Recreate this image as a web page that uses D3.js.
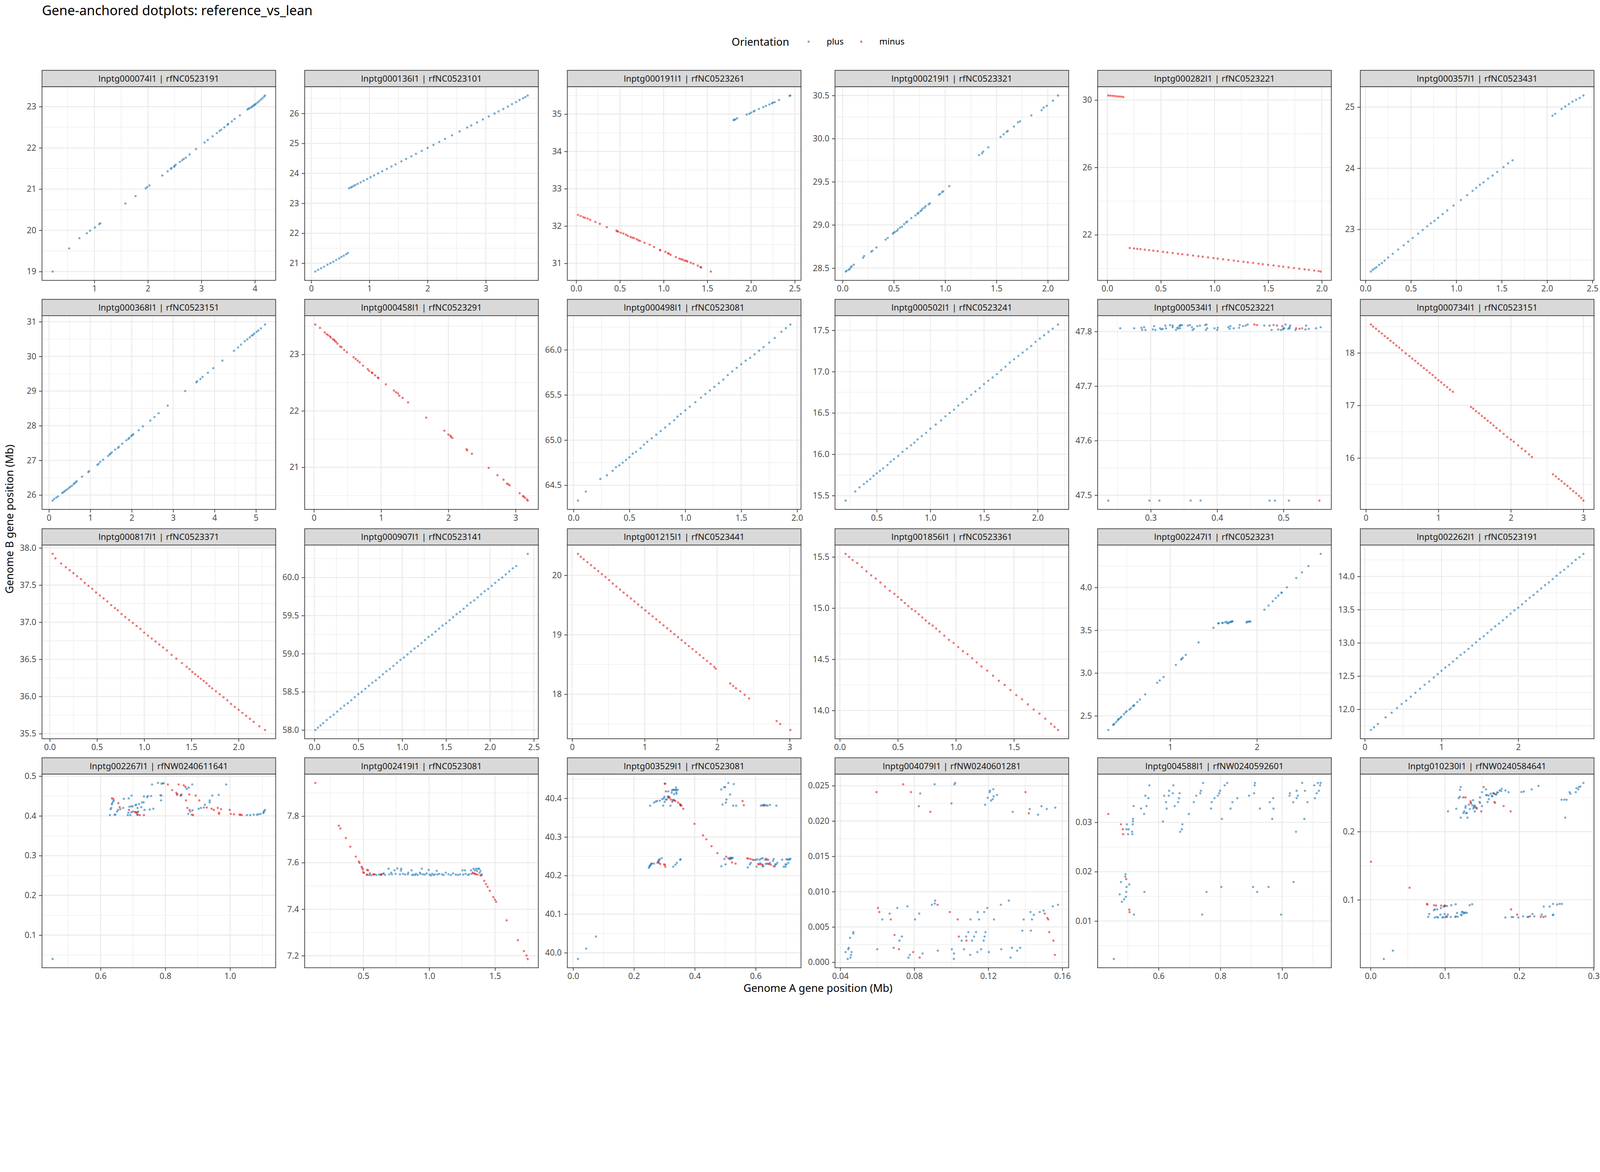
<!DOCTYPE html>
<html>
<head>
<meta charset="utf-8">
<script src="https://cdn.jsdelivr.net/npm/d3@7/dist/d3.min.js"></script>
<style>
  html, body { margin: 0; padding: 0; background: #fff; overflow: hidden; }
  #chart { display: block; width: 100vw; height: 100vh; }
  text { font-family: "Noto Sans", "Open Sans", sans-serif; }
</style>
</head>
<body>
<svg id="chart"></svg>
<script>
/* Gene-anchored dotplots, one facet per contig pair, [geneA Mb, geneB Mb] */

var panelTitles = [
    "lnptg000074l1 | rfNC0523191", "lnptg000136l1 | rfNC0523101", "lnptg000191l1 | rfNC0523261",
    "lnptg000219l1 | rfNC0523321", "lnptg000282l1 | rfNC0523221", "lnptg000357l1 | rfNC0523431",
    "lnptg000368l1 | rfNC0523151", "lnptg000458l1 | rfNC0523291", "lnptg000498l1 | rfNC0523081",
    "lnptg000502l1 | rfNC0523241", "lnptg000534l1 | rfNC0523221", "lnptg000734l1 | rfNC0523151",
    "lnptg000817l1 | rfNC0523371", "lnptg000907l1 | rfNC0523141", "lnptg001215l1 | rfNC0523441",
    "lnptg001856l1 | rfNC0523361", "lnptg002247l1 | rfNC0523231", "lnptg002262l1 | rfNC0523191",
    "lnptg002267l1 | rfNW0240611641", "lnptg002419l1 | rfNC0523081", "lnptg003529l1 | rfNC0523081",
    "lnptg004079l1 | rfNW0240601281", "lnptg004588l1 | rfNW0240592601", "lnptg010230l1 | rfNW0240584641"
];

var xTickLabels = [
    ["1","2","3","4"], ["0","1","2","3"], ["0.0","0.5","1.0","1.5","2.0","2.5"],
    ["0.0","0.5","1.0","1.5","2.0"], ["0.0","0.5","1.0","1.5","2.0"], ["0.0","0.5","1.0","1.5","2.0","2.5"],
    ["0","1","2","3","4","5"], ["0","1","2","3"], ["0.0","0.5","1.0","1.5","2.0"],
    ["0.5","1.0","1.5","2.0"], ["0.3","0.4","0.5"], ["0","1","2","3"],
    ["0.0","0.5","1.0","1.5","2.0"], ["0.0","0.5","1.0","1.5","2.0","2.5"], ["0","1","2","3"],
    ["0.0","0.5","1.0","1.5"], ["1","2"], ["0","1","2","3"],
    ["0.6","0.8","1.0"], ["0.5","1.0","1.5"], ["0.0","0.2","0.4","0.6"],
    ["0.04","0.08","0.12","0.16"], ["0.6","0.8","1.0"], ["0.0","0.1","0.2","0.3"]
];

var yTickLabels = [
    ["19","20","21","22","23"], ["21","22","23","24","25","26"], ["31","32","33","34","35"],
    ["28.5","29.0","29.5","30.0","30.5"], ["22","26","30"], ["23","24","25"],
    ["26","27","28","29","30","31"], ["21","22","23"], ["64.5","65.0","65.5","66.0"],
    ["15.5","16.0","16.5","17.0","17.5"], ["47.5","47.6","47.7","47.8"], ["16","17","18"],
    ["35.5","36.0","36.5","37.0","37.5","38.0"], ["58.0","58.5","59.0","59.5","60.0"], ["18","19","20"],
    ["14.0","14.5","15.0","15.5"], ["2.5","3.0","3.5","4.0"], ["12.0","12.5","13.0","13.5","14.0"],
    ["0.1","0.2","0.3","0.4","0.5"], ["7.2","7.4","7.6","7.8"], ["40.0","40.1","40.2","40.3","40.4"],
    ["0.000","0.005","0.010","0.015","0.020","0.025"], ["0.01","0.02","0.03"], ["0.1","0.2"]
];

var plus01 = [[0.22,19.00],[0.53,19.56],[0.72,19.81],[0.86,19.93],[0.92,19.99],[1.01,20.07],[1.09,20.15],[1.11,20.17],[1.58,20.65],[1.77,20.83],[1.96,21.02],[1.99,21.05],[2.03,21.09],[2.27,21.33],[2.37,21.43],[2.43,21.49],[2.44,21.51],[2.49,21.54],[2.50,21.56],[2.52,21.59],[2.60,21.66],[2.64,21.70],[2.67,21.73],[2.71,21.76],[2.78,21.84],[2.90,21.97],[3.06,22.13],[3.12,22.19],[3.21,22.28],[3.29,22.36],[3.34,22.41],[3.37,22.44],[3.43,22.50],[3.49,22.56],[3.50,22.58],[3.57,22.64],[3.62,22.70],[3.72,22.79],[3.86,22.93],[3.88,22.95],[3.90,22.96],[3.93,22.98],[3.95,23.00],[3.97,23.02],[3.99,23.04],[4.00,23.05],[4.02,23.07],[4.05,23.10],[4.08,23.13],[4.11,23.17],[4.14,23.20],[4.17,23.24],[4.19,23.27]];
var minus01 = [];

var plus02 = [[0.07,20.72],[0.12,20.78],[0.17,20.83],[0.22,20.88],[0.28,20.95],[0.33,21.00],[0.38,21.05],[0.43,21.11],[0.48,21.16],[0.52,21.21],[0.56,21.25],[0.60,21.30],[0.63,21.34],
    [0.65,23.50],[0.68,23.53],[0.70,23.55],[0.73,23.58],[0.76,23.61],[0.80,23.65],[0.85,23.70],[0.90,23.75],[0.96,23.81],[1.02,23.87],[1.08,23.93],[1.15,24.00],[1.22,24.07],[1.30,24.15],[1.38,24.23],[1.45,24.30],[1.55,24.40],[1.63,24.48],[1.72,24.57],[1.80,24.65],[1.90,24.75],[2.00,24.85],[2.10,24.95],[2.20,25.05],[2.30,25.15],[2.42,25.27],[2.55,25.40],[2.68,25.53],[2.75,25.60],[2.85,25.70],[2.95,25.80],[3.05,25.90],[3.15,26.00],[3.22,26.07],[3.30,26.15],[3.38,26.23],[3.45,26.31],[3.52,26.38],[3.58,26.45],[3.64,26.51],[3.68,26.55],[3.72,26.60]];
var minus02 = [];

var plus03 = [[1.80,34.84],[1.81,34.85],[1.82,34.86],[1.84,34.89],[1.95,34.99],[1.98,35.01],[2.00,35.04],[2.03,35.07],[2.04,35.09],[2.09,35.14],[2.14,35.19],[2.17,35.22],[2.21,35.26],[2.24,35.29],[2.25,35.31],[2.27,35.32],[2.32,35.38],[2.44,35.49],[2.45,35.50]];
var minus03 = [[0.02,32.30],[0.05,32.27],[0.08,32.24],[0.10,32.22],[0.13,32.20],[0.16,32.17],[0.22,32.11],[0.27,32.06],[0.35,31.97],[0.46,31.88],[0.47,31.86],[0.48,31.85],[0.51,31.82],[0.54,31.80],[0.57,31.77],[0.59,31.74],[0.62,31.71],[0.64,31.69],[0.66,31.68],[0.69,31.65],[0.71,31.62],[0.73,31.60],[0.78,31.55],[0.84,31.50],[0.89,31.44],[0.96,31.36],[0.96,31.35],[1.02,31.31],[1.05,31.27],[1.06,31.26],[1.08,31.23],[1.14,31.17],[1.18,31.13],[1.20,31.11],[1.22,31.10],[1.24,31.07],[1.26,31.07],[1.27,31.05],[1.31,31.02],[1.34,30.99],[1.39,30.94],[1.42,30.90],[1.43,30.89],[1.54,30.78]];

var plus04 = [[0.03,28.46],[0.04,28.47],[0.06,28.48],[0.07,28.49],[0.08,28.51],[0.09,28.52],[0.11,28.54],[0.20,28.62],[0.21,28.64],[0.28,28.69],[0.29,28.70],[0.33,28.74],[0.42,28.83],[0.44,28.85],[0.49,28.90],[0.50,28.91],[0.51,28.92],[0.53,28.93],[0.54,28.95],[0.56,28.97],[0.58,28.98],[0.60,29.01],[0.62,29.03],[0.63,29.04],[0.67,29.08],[0.71,29.11],[0.73,29.13],[0.74,29.14],[0.76,29.16],[0.77,29.17],[0.78,29.19],[0.80,29.20],[0.81,29.22],[0.84,29.24],[0.85,29.25],[0.94,29.35],[0.95,29.36],[0.97,29.38],[0.98,29.39],[1.04,29.45],[1.33,29.81],[1.36,29.83],[1.37,29.85],[1.42,29.90],[1.54,30.02],[1.57,30.05],[1.60,30.08],[1.61,30.09],[1.67,30.14],[1.71,30.19],[1.73,30.20],[1.84,30.27],[1.94,30.33],[1.96,30.36],[1.99,30.38],[2.05,30.44],[2.10,30.50]];
var minus04 = [];

var plus05 = [];
var minus05 = [[0.01,30.27],[0.03,30.26],[0.05,30.25],[0.07,30.24],[0.09,30.22],[0.11,30.21],[0.13,30.20],[0.15,30.18],
    [0.21,21.22],[0.25,21.19],[0.28,21.17],[0.31,21.15],[0.35,21.12],[0.39,21.09],[0.43,21.06],[0.47,21.03],[0.52,20.99],[0.56,20.96],[0.61,20.92],[0.66,20.88],[0.70,20.85],[0.75,20.81],[0.80,20.77],[0.85,20.73],[0.89,20.70],[0.94,20.66],[0.99,20.62],[1.03,20.59],[1.08,20.55],[1.13,20.51],[1.18,20.47],[1.22,20.44],[1.27,20.40],[1.31,20.37],[1.36,20.33],[1.41,20.29],[1.45,20.26],[1.50,20.22],[1.55,20.18],[1.60,20.14],[1.64,20.11],[1.69,20.07],[1.74,20.03],[1.79,19.99],[1.84,19.95],[1.88,19.92],[1.93,19.88],[1.97,19.85],[1.99,19.82]];

var plus06 = [[0.06,22.31],[0.08,22.34],[0.10,22.36],[0.12,22.38],[0.15,22.42],[0.18,22.45],[0.21,22.49],[0.25,22.54],[0.30,22.60],[0.36,22.67],[0.42,22.74],[0.47,22.80],[0.52,22.86],[0.58,22.93],[0.63,22.99],[0.68,23.05],[0.72,23.10],[0.76,23.14],[0.80,23.19],[0.85,23.25],[0.90,23.31],[0.97,23.39],[1.05,23.48],[1.12,23.56],[1.18,23.63],[1.22,23.68],[1.26,23.73],[1.30,23.77],[1.35,23.83],[1.40,23.88],[1.45,23.94],[1.52,24.02],[1.57,24.08],[1.62,24.13],
    [2.06,24.86],[2.09,24.89],[2.16,24.97],[2.20,25.01],[2.24,25.05],[2.28,25.09],[2.32,25.12],[2.36,25.15],[2.40,25.19]];
var minus06 = [];

var plus07 = [[0.09,25.84],[0.13,25.89],[0.18,25.93],[0.22,25.96],[0.32,26.06],[0.35,26.08],[0.38,26.11],[0.41,26.14],[0.45,26.17],[0.49,26.21],[0.52,26.24],[0.56,26.27],[0.60,26.32],[0.62,26.34],[0.65,26.37],[0.67,26.40],[0.80,26.53],[0.95,26.66],[0.97,26.69],[1.17,26.87],[1.20,26.90],[1.24,26.96],[1.31,27.02],[1.43,27.13],[1.47,27.17],[1.49,27.20],[1.52,27.23],[1.60,27.31],[1.67,27.36],[1.69,27.39],[1.77,27.48],[1.87,27.58],[1.92,27.62],[1.94,27.65],[1.99,27.70],[2.01,27.73],[2.04,27.75],[2.17,27.87],[2.27,27.98],[2.45,28.15],[2.55,28.25],[2.65,28.36],[2.87,28.58],[3.29,29.00],[3.56,29.25],[3.58,29.28],[3.66,29.35],[3.71,29.41],[3.84,29.53],[3.97,29.66],[4.19,29.88],[4.47,30.16],[4.57,30.26],[4.64,30.34],[4.73,30.44],[4.79,30.49],[4.85,30.55],[4.90,30.60],[4.93,30.62],[4.96,30.66],[5.02,30.71],[5.06,30.75],[5.12,30.81],[5.22,30.92]];
var minus07 = [];

var plus08 = [];
var minus08 = [[0.02,23.53],[0.09,23.47],[0.16,23.39],[0.19,23.36],[0.21,23.34],[0.24,23.32],[0.25,23.30],[0.28,23.27],[0.30,23.26],[0.31,23.24],[0.33,23.22],[0.35,23.19],[0.39,23.14],[0.41,23.13],[0.45,23.08],[0.49,23.04],[0.59,22.95],[0.62,22.92],[0.65,22.89],[0.68,22.86],[0.73,22.80],[0.80,22.74],[0.82,22.71],[0.86,22.68],[0.87,22.67],[0.91,22.63],[0.95,22.59],[0.96,22.58],[1.07,22.47],[1.19,22.36],[1.22,22.33],[1.25,22.31],[1.27,22.27],[1.32,22.23],[1.40,22.15],[1.67,21.88],[1.94,21.65],[2.00,21.58],[2.03,21.56],[2.04,21.54],[2.06,21.52],[2.27,21.32],[2.28,21.30],[2.35,21.24],[2.60,20.99],[2.73,20.86],[2.82,20.78],[2.87,20.71],[2.89,20.70],[2.91,20.68],[3.06,20.54],[3.11,20.49],[3.12,20.48],[3.14,20.46],[3.17,20.43],[3.18,20.41]];

var plus09 = [[0.04,64.33],[0.11,64.43],[0.24,64.57],[0.30,64.61],[0.35,64.66],[0.38,64.70],[0.41,64.72],[0.44,64.75],[0.47,64.78],[0.50,64.81],[0.53,64.85],[0.56,64.87],[0.60,64.91],[0.63,64.95],[0.66,64.98],[0.70,65.02],[0.74,65.06],[0.78,65.10],[0.82,65.14],[0.86,65.18],[0.90,65.22],[0.93,65.26],[0.96,65.29],[1.00,65.33],[1.04,65.37],[1.09,65.42],[1.14,65.47],[1.18,65.51],[1.22,65.55],[1.26,65.59],[1.30,65.63],[1.34,65.67],[1.38,65.72],[1.42,65.76],[1.46,65.80],[1.50,65.84],[1.54,65.88],[1.58,65.91],[1.62,65.95],[1.66,65.99],[1.70,66.03],[1.75,66.08],[1.80,66.13],[1.86,66.20],[1.90,66.24],[1.94,66.28]];
var minus09 = [];

var plus10 = [[0.21,15.44],[0.30,15.55],[0.34,15.60],[0.38,15.64],[0.41,15.67],[0.44,15.70],[0.47,15.74],[0.50,15.77],[0.53,15.80],[0.56,15.83],[0.60,15.87],[0.63,15.91],[0.66,15.94],[0.70,15.98],[0.74,16.03],[0.78,16.07],[0.82,16.11],[0.85,16.14],[0.88,16.18],[0.92,16.22],[0.96,16.26],[1.00,16.31],[1.05,16.36],[1.10,16.41],[1.14,16.46],[1.18,16.50],[1.22,16.54],[1.26,16.59],[1.30,16.63],[1.34,16.67],[1.38,16.72],[1.42,16.76],[1.46,16.80],[1.50,16.85],[1.54,16.89],[1.58,16.93],[1.62,16.97],[1.66,17.02],[1.70,17.06],[1.74,17.11],[1.78,17.15],[1.82,17.19],[1.86,17.23],[1.90,17.27],[1.94,17.31],[1.98,17.36],[2.02,17.40],[2.06,17.44],[2.10,17.48],[2.14,17.52],[2.19,17.57]];
var minus10 = [];

var plus11 = [[0.254,47.806],[0.275,47.806],[0.286,47.807],[0.290,47.808],[0.287,47.803],[0.292,47.803],[0.303,47.804],[0.305,47.810],[0.307,47.803],[0.314,47.806],[0.316,47.804],[0.318,47.805],[0.322,47.811],[0.323,47.806],[0.329,47.812],[0.333,47.811],[0.333,47.808],[0.338,47.803],[0.340,47.807],[0.341,47.806],[0.343,47.810],[0.344,47.811],[0.345,47.812],[0.344,47.806],[0.347,47.812],[0.356,47.811],[0.359,47.812],[0.362,47.808],[0.363,47.803],[0.365,47.805],[0.370,47.810],[0.374,47.811],[0.382,47.812],[0.384,47.813],[0.383,47.803],[0.385,47.806],[0.396,47.806],[0.400,47.803],[0.401,47.807],[0.417,47.808],[0.420,47.810],[0.419,47.805],[0.425,47.806],[0.433,47.807],[0.434,47.812],[0.439,47.810],[0.443,47.811],[0.446,47.813],[0.471,47.811],[0.485,47.812],[0.482,47.803],[0.492,47.804],[0.496,47.803],[0.499,47.804],[0.500,47.806],[0.501,47.806],[0.503,47.813],[0.507,47.805],[0.509,47.806],[0.509,47.808],[0.510,47.811],[0.518,47.803],[0.528,47.806],[0.534,47.811],[0.538,47.805],[0.549,47.806],[0.556,47.808],
    [0.236,47.490],[0.298,47.490],[0.313,47.490],[0.360,47.490],[0.375,47.490],[0.479,47.490],[0.487,47.490],[0.508,47.490]];
var minus11 = [[0.456,47.813],[0.460,47.812],[0.479,47.811],[0.490,47.811],[0.498,47.810],[0.519,47.806],[0.524,47.805],[0.533,47.804],[0.554,47.490]];

var plus12 = [];
var minus12 = [[0.07,18.54],[0.10,18.50],[0.14,18.46],[0.18,18.41],[0.22,18.37],[0.26,18.32],[0.30,18.28],[0.34,18.23],[0.38,18.19],[0.42,18.14],[0.46,18.10],[0.50,18.05],[0.55,17.99],[0.60,17.94],[0.64,17.89],[0.68,17.85],[0.72,17.80],[0.76,17.76],[0.80,17.71],[0.84,17.67],[0.88,17.62],[0.92,17.58],[0.96,17.53],[1.00,17.48],[1.04,17.44],[1.08,17.39],[1.12,17.35],[1.16,17.30],[1.20,17.26],[1.45,16.97],[1.48,16.94],[1.52,16.89],[1.56,16.85],[1.60,16.80],[1.64,16.76],[1.68,16.71],[1.72,16.67],[1.76,16.62],[1.80,16.57],[1.85,16.52],[1.90,16.46],[1.95,16.40],[2.00,16.35],[2.04,16.31],[2.10,16.24],[2.15,16.18],[2.20,16.13],[2.25,16.07],[2.29,16.02],[2.58,15.69],[2.62,15.65],[2.66,15.60],[2.70,15.56],[2.74,15.51],[2.78,15.47],[2.82,15.42],[2.86,15.37],[2.90,15.33],[2.94,15.28],[2.97,15.24],[3.00,15.19]];

var plus13 = [];
var minus13 = [[0.03,37.92],[0.06,37.86],[0.12,37.79],[0.17,37.74],[0.21,37.70],[0.25,37.66],[0.29,37.62],[0.33,37.58],[0.37,37.53],[0.41,37.49],[0.45,37.45],[0.49,37.40],[0.53,37.36],[0.57,37.32],[0.61,37.28],[0.65,37.23],[0.69,37.19],[0.72,37.16],[0.76,37.11],[0.80,37.07],[0.84,37.03],[0.88,36.99],[0.92,36.95],[0.96,36.91],[1.00,36.86],[1.04,36.82],[1.08,36.78],[1.12,36.74],[1.16,36.70],[1.20,36.66],[1.24,36.62],[1.29,36.56],[1.34,36.51],[1.40,36.45],[1.45,36.40],[1.48,36.37],[1.51,36.33],[1.54,36.30],[1.57,36.27],[1.60,36.24],[1.63,36.21],[1.66,36.18],[1.69,36.14],[1.72,36.11],[1.76,36.07],[1.80,36.03],[1.84,35.99],[1.88,35.95],[1.92,35.90],[1.96,35.86],[2.00,35.82],[2.04,35.78],[2.08,35.74],[2.12,35.70],[2.16,35.66],[2.22,35.60],[2.28,35.55]];

var plus14 = [[0.01,58.00],[0.04,58.03],[0.07,58.06],[0.10,58.09],[0.14,58.13],[0.18,58.17],[0.22,58.20],[0.26,58.24],[0.30,58.28],[0.34,58.32],[0.38,58.35],[0.42,58.39],[0.46,58.43],[0.50,58.47],[0.54,58.50],[0.58,58.54],[0.62,58.58],[0.66,58.62],[0.70,58.65],[0.74,58.69],[0.78,58.73],[0.82,58.77],[0.86,58.80],[0.90,58.84],[0.94,58.88],[0.98,58.92],[1.02,58.95],[1.06,58.99],[1.10,59.03],[1.14,59.07],[1.18,59.10],[1.22,59.14],[1.26,59.18],[1.30,59.22],[1.34,59.25],[1.38,59.29],[1.42,59.33],[1.46,59.37],[1.50,59.40],[1.54,59.44],[1.58,59.48],[1.62,59.52],[1.66,59.55],[1.70,59.59],[1.74,59.63],[1.78,59.67],[1.82,59.70],[1.86,59.74],[1.90,59.78],[1.94,59.82],[1.98,59.85],[2.02,59.89],[2.06,59.93],[2.10,59.97],[2.14,60.00],[2.18,60.04],[2.22,60.08],[2.26,60.12],[2.30,60.15],[2.43,60.31]];
var minus14 = [];

var plus15 = [];
var minus15 = [[0.08,20.36],[0.12,20.31],[0.16,20.27],[0.21,20.22],[0.26,20.17],[0.31,20.12],[0.36,20.07],[0.41,20.02],[0.46,19.97],[0.51,19.92],[0.56,19.86],[0.61,19.81],[0.66,19.76],[0.71,19.71],[0.76,19.66],[0.81,19.61],[0.86,19.56],[0.91,19.51],[0.96,19.46],[1.01,19.41],[1.06,19.36],[1.11,19.31],[1.16,19.26],[1.21,19.21],[1.26,19.16],[1.31,19.11],[1.36,19.06],[1.41,19.01],[1.46,18.96],[1.51,18.91],[1.56,18.86],[1.61,18.81],[1.66,18.76],[1.71,18.71],[1.76,18.66],[1.81,18.61],[1.86,18.56],[1.91,18.51],[1.96,18.46],[1.98,18.43],
    [2.18,18.18],[2.22,18.14],[2.26,18.10],[2.32,18.05],[2.38,17.99],[2.44,17.93],[2.82,17.55],[2.87,17.50],[3.01,17.40]];

var plus16 = [];
var minus16 = [[0.05,15.53],[0.08,15.50],[0.11,15.47],[0.15,15.44],[0.19,15.40],[0.23,15.36],[0.27,15.32],[0.31,15.29],[0.35,15.25],[0.39,15.21],[0.43,15.17],[0.47,15.14],[0.50,15.11],[0.53,15.08],[0.56,15.05],[0.59,15.02],[0.62,14.99],[0.65,14.97],[0.68,14.94],[0.71,14.91],[0.74,14.88],[0.77,14.85],[0.80,14.83],[0.83,14.80],[0.86,14.77],[0.90,14.73],[0.94,14.69],[0.98,14.66],[1.02,14.62],[1.06,14.58],[1.10,14.55],[1.14,14.51],[1.18,14.47],[1.22,14.43],[1.27,14.39],[1.32,14.34],[1.37,14.29],[1.42,14.25],[1.47,14.20],[1.52,14.15],[1.57,14.11],[1.62,14.06],[1.67,14.01],[1.72,13.97],[1.77,13.92],[1.82,13.87],[1.85,13.84],[1.88,13.81]];

var plus17 = [[0.287,2.335],[0.343,2.394],[0.349,2.400],[0.355,2.405],[0.377,2.427],[0.395,2.448],[0.403,2.459],[0.409,2.464],[0.427,2.477],[0.437,2.489],[0.467,2.520],[0.487,2.541],[0.499,2.555],[0.531,2.573],[0.547,2.589],[0.571,2.613],[0.579,2.620],[0.585,2.623],[0.621,2.661],[0.651,2.691],[0.713,2.750],[0.850,2.886],[0.880,2.913],[0.924,2.954],[1.066,3.095],[1.126,3.158],[1.134,3.167],[1.146,3.179],[1.180,3.212],[1.327,3.358],[1.499,3.528],[1.555,3.583],[1.559,3.580],[1.601,3.587],[1.605,3.585],[1.633,3.594],[1.653,3.598],[1.659,3.583],[1.671,3.583],[1.685,3.594],[1.697,3.596],[1.705,3.600],[1.713,3.603],[1.719,3.605],[1.880,3.591],[1.888,3.600],[1.902,3.600],[1.914,3.601],[1.926,3.603],[2.086,3.741],[2.134,3.789],[2.182,3.839],[2.218,3.877],[2.246,3.905],[2.283,3.941],[2.285,3.937],[2.345,4.002],[2.453,4.111],[2.519,4.177],[2.593,4.250],[2.735,4.393]];
var minus17 = [];

var plus18 = [[0.08,11.69],[0.12,11.73],[0.17,11.78],[0.27,11.88],[0.35,11.95],[0.42,12.02],[0.48,12.08],[0.54,12.13],[0.60,12.19],[0.66,12.25],[0.72,12.31],[0.78,12.37],[0.84,12.42],[0.90,12.48],[0.95,12.53],[1.00,12.58],[1.05,12.63],[1.10,12.67],[1.15,12.72],[1.20,12.77],[1.25,12.82],[1.30,12.86],[1.35,12.91],[1.40,12.96],[1.45,13.01],[1.50,13.06],[1.55,13.10],[1.60,13.15],[1.65,13.20],[1.70,13.25],[1.75,13.29],[1.80,13.34],[1.85,13.39],[1.90,13.44],[1.95,13.49],[2.00,13.53],[2.05,13.58],[2.10,13.63],[2.15,13.68],[2.20,13.72],[2.25,13.77],[2.30,13.82],[2.35,13.87],[2.40,13.91],[2.45,13.96],[2.50,14.01],[2.55,14.06],[2.60,14.10],[2.65,14.15],[2.70,14.20],[2.75,14.25],[2.80,14.29],[2.85,14.34]];
var minus18 = [];

var plus19 = [[0.452,0.040],[0.629,0.402],[0.631,0.417],[0.633,0.420],[0.635,0.429],[0.636,0.432],[0.639,0.436],[0.641,0.439],[0.643,0.403],[0.646,0.403],[0.651,0.411],[0.654,0.415],[0.661,0.417],[0.670,0.420],[0.672,0.443],[0.684,0.402],[0.687,0.444],[0.686,0.408],[0.689,0.423],[0.692,0.402],[0.695,0.424],[0.699,0.424],[0.696,0.451],[0.695,0.409],[0.700,0.411],[0.708,0.427],[0.710,0.428],[0.713,0.403],[0.714,0.409],[0.716,0.411],[0.714,0.420],[0.719,0.430],[0.726,0.422],[0.728,0.434],[0.733,0.434],[0.734,0.449],[0.736,0.415],[0.744,0.447],[0.746,0.450],[0.756,0.450],[0.752,0.416],[0.763,0.418],[0.759,0.479],[0.777,0.483],[0.785,0.452],[0.788,0.451],[0.788,0.481],[0.792,0.482],[0.795,0.482],[0.787,0.439],[0.836,0.453],[0.850,0.454],[0.849,0.452],[0.866,0.468],[0.872,0.471],[0.883,0.479],[0.871,0.405],[0.877,0.411],[0.884,0.414],[0.903,0.418],[0.910,0.420],[0.919,0.421],[0.922,0.428],[0.937,0.439],[0.937,0.434],[0.945,0.451],[0.965,0.453],[0.988,0.479],[1.052,0.402],[1.062,0.402],[1.073,0.403],[1.083,0.403],[1.088,0.404],[1.094,0.405],[1.103,0.407],[1.104,0.410],[1.105,0.412],[1.108,0.415]];
var minus19 = [[0.635,0.444],[0.639,0.443],[0.655,0.432],[0.659,0.422],[0.688,0.415],[0.706,0.410],[0.709,0.409],[0.711,0.408],[0.715,0.403],[0.721,0.402],[0.734,0.402],[0.808,0.479],[0.821,0.465],[0.834,0.458],[0.837,0.455],[0.841,0.479],[0.847,0.451],[0.857,0.477],[0.862,0.473],[0.864,0.439],[0.868,0.420],[0.874,0.454],[0.875,0.415],[0.882,0.403],[0.886,0.402],[0.894,0.451],[0.905,0.439],[0.928,0.421],[0.943,0.418],[0.950,0.415],[0.962,0.420],[0.966,0.408],[0.966,0.405],[0.972,0.417],[0.999,0.415],[1.002,0.405],[1.012,0.404],[1.029,0.403],[1.032,0.403],[1.036,0.402]];

var plus20 = [[0.526,7.547],[0.543,7.547],[0.559,7.546],[0.579,7.549],[0.599,7.547],[0.619,7.549],[0.634,7.550],[0.649,7.552],[0.655,7.554],[0.665,7.547],[0.691,7.574],[0.696,7.550],[0.711,7.557],[0.717,7.550],[0.737,7.567],[0.744,7.552],[0.758,7.575],[0.778,7.550],[0.785,7.566],[0.788,7.574],[0.801,7.552],[0.817,7.549],[0.838,7.550],[0.841,7.557],[0.866,7.567],[0.870,7.547],[0.880,7.549],[0.893,7.547],[0.900,7.552],[0.913,7.547],[0.929,7.557],[0.935,7.552],[0.944,7.574],[0.952,7.550],[0.967,7.549],[0.981,7.554],[0.996,7.569],[1.003,7.549],[1.013,7.545],[1.022,7.552],[1.033,7.547],[1.044,7.550],[1.057,7.565],[1.063,7.549],[1.076,7.552],[1.097,7.550],[1.110,7.547],[1.126,7.557],[1.146,7.550],[1.165,7.547],[1.181,7.554],[1.202,7.549],[1.218,7.547],[1.234,7.550],[1.252,7.567],[1.258,7.549],[1.271,7.567],[1.276,7.552],[1.294,7.547],[1.304,7.550],[1.318,7.567],[1.323,7.552],[1.337,7.574],[1.347,7.567],[1.357,7.574],[1.363,7.564],[1.371,7.574],[1.379,7.574],[1.383,7.557],[1.389,7.565],[1.400,7.550]];
var minus20 = [[0.135,7.943],[0.314,7.759],[0.326,7.747],[0.367,7.706],[0.401,7.669],[0.443,7.626],[0.466,7.605],[0.471,7.599],[0.487,7.582],[0.492,7.577],[0.496,7.571],[0.499,7.559],[0.505,7.556],[0.529,7.569],[0.536,7.567],[0.528,7.549],[0.550,7.554],[0.575,7.550],[0.586,7.550],[0.633,7.547],[0.636,7.549],[1.331,7.557],[1.339,7.554],[1.347,7.552],[1.354,7.550],[1.367,7.549],[1.389,7.546],[1.396,7.545],[1.418,7.522],[1.431,7.508],[1.443,7.496],[1.460,7.479],[1.487,7.452],[1.499,7.441],[1.508,7.432],[1.588,7.352],[1.673,7.267],[1.719,7.220],[1.739,7.201],[1.748,7.186]];

var plus21 = [[0.016,39.984],[0.043,40.011],[0.075,40.042],
    [0.249,40.220],[0.251,40.223],[0.252,40.225],[0.254,40.227],[0.256,40.229],[0.257,40.231],[0.259,40.231],[0.266,40.231],[0.277,40.233],[0.280,40.238],[0.283,40.241],[0.284,40.242],[0.291,40.245],[0.329,40.223],[0.336,40.228],[0.341,40.233],[0.352,40.241],[0.353,40.242],
    [0.253,40.381],[0.266,40.389],[0.272,40.392],[0.276,40.393],[0.285,40.394],[0.293,40.398],[0.298,40.400],[0.300,40.404],[0.301,40.391],[0.296,40.381],[0.305,40.397],[0.308,40.397],[0.311,40.404],[0.313,40.405],[0.315,40.403],[0.313,40.418],[0.320,40.381],[0.324,40.415],[0.325,40.421],[0.328,40.422],[0.331,40.422],[0.334,40.422],[0.337,40.422],[0.340,40.422],[0.344,40.422],[0.338,40.428],[0.339,40.416],[0.340,40.412],[0.332,40.411],[0.326,40.391],[0.328,40.395],[0.351,40.385],[0.353,40.383],
    [0.487,40.423],[0.496,40.429],[0.500,40.429],[0.510,40.440],[0.528,40.437],[0.516,40.410],[0.504,40.397],[0.502,40.389],[0.491,40.384],[0.526,40.381],[0.536,40.381],[0.617,40.381],[0.622,40.382],[0.626,40.383],[0.629,40.383],[0.634,40.382],[0.639,40.381],[0.647,40.383],[0.668,40.381],
    [0.487,40.224],[0.497,40.243],[0.501,40.229],[0.510,40.245],[0.516,40.246],[0.519,40.245],[0.520,40.246],[0.523,40.245],[0.524,40.246],[0.517,40.243],[0.574,40.221],[0.581,40.229],[0.584,40.233],[0.595,40.240],[0.600,40.241],[0.605,40.242],[0.603,40.223],[0.613,40.241],[0.618,40.244],[0.623,40.245],[0.615,40.232],[0.623,40.224],[0.625,40.224],[0.631,40.241],[0.634,40.244],[0.633,40.230],[0.637,40.231],[0.641,40.230],[0.647,40.233],[0.657,40.238],[0.659,40.243],[0.659,40.224],[0.664,40.229],[0.667,40.229],[0.671,40.233],[0.687,40.241],[0.692,40.223],[0.698,40.223],[0.698,40.229],[0.701,40.229],[0.701,40.242],[0.705,40.242],[0.707,40.233],[0.709,40.241],[0.712,40.242],[0.714,40.244]];
var minus21 = [[0.280,40.236],[0.282,40.233],[0.286,40.230],[0.299,40.229],[0.302,40.228],[0.303,40.223],
    [0.301,40.438],[0.303,40.438],[0.305,40.418],[0.314,40.402],[0.317,40.402],[0.321,40.397],[0.329,40.396],[0.333,40.395],[0.336,40.393],[0.345,40.389],[0.352,40.383],[0.354,40.382],[0.356,40.381],[0.362,40.373],
    [0.399,40.334],[0.427,40.304],[0.438,40.294],[0.455,40.276],[0.474,40.258],[0.503,40.249],[0.514,40.243],[0.522,40.234],[0.534,40.231],
    [0.557,40.393],[0.561,40.382],[0.627,40.381],
    [0.572,40.245],[0.576,40.244],[0.583,40.243],[0.590,40.241],[0.608,40.230],[0.611,40.229],[0.618,40.229],[0.623,40.228],[0.636,40.241],[0.641,40.241],[0.644,40.230],[0.650,40.228],[0.663,40.224]];

var plus22 = [[0.0825,0.0221],[0.0832,0.0239],[0.0910,0.0252],[0.1001,0.0225],[0.1017,0.0252],[0.1021,0.0254],[0.1183,0.0223],[0.1197,0.0233],[0.1207,0.0241],[0.1209,0.0243],[0.1215,0.0229],[0.1224,0.0231],[0.1227,0.0245],[0.1229,0.0235],[0.1247,0.0237],[0.1332,0.0213],[0.1424,0.0217],[0.1469,0.0209],[0.1488,0.0221],[0.1516,0.0217],[0.1562,0.0219],
    [0.0429,0.00145],[0.0440,0.00047],[0.0443,0.00185],[0.0446,0.00205],[0.0453,0.00347],[0.0455,0.00067],[0.0458,0.00105],[0.0461,0.00145],[0.0470,0.00407],[0.0471,0.00427],[0.0600,0.00185],[0.0627,0.00607],[0.0667,0.00690],[0.0689,0.00205],[0.0708,0.00770],[0.0720,0.00307],[0.0733,0.00365],[0.0763,0.00792],[0.0768,0.00067],[0.0776,0.00105],[0.0804,0.00607],[0.0827,0.00690],[0.0845,0.00125],[0.0895,0.00814],[0.0911,0.00832],[0.0913,0.00874],[0.0927,0.00165],[0.1003,0.00185],[0.1014,0.00047],[0.1015,0.00125],[0.1056,0.00307],[0.1069,0.00185],[0.1080,0.00365],[0.1092,0.00427],[0.1102,0.00105],[0.1104,0.00607],[0.1112,0.00307],[0.1123,0.00365],[0.1134,0.00427],[0.1141,0.00145],[0.1143,0.00712],[0.1150,0.00607],[0.1161,0.00185],[0.1175,0.00307],[0.1178,0.00712],[0.1180,0.00365],[0.1185,0.00427],[0.1195,0.00770],[0.1203,0.00145],[0.1231,0.00607],[0.1268,0.00814],[0.1270,0.00185],[0.1311,0.00874],[0.1320,0.00067],[0.1328,0.00205],[0.1356,0.00165],[0.1372,0.00205],[0.1384,0.00447],[0.1391,0.00607],[0.1428,0.00712],[0.1430,0.00447],[0.1436,0.00607],[0.1446,0.00672],[0.1478,0.00712],[0.1499,0.00732],[0.1549,0.00792],[0.1577,0.00814]];
var minus22 = [[0.0596,0.0241],[0.0740,0.0252],[0.0782,0.0241],[0.0887,0.0213],[0.1401,0.0241],[0.1419,0.0211],
    [0.0604,0.00770],[0.0611,0.00712],[0.0673,0.00607],[0.0693,0.00387],[0.0717,0.00185],[0.0794,0.00145],[0.0829,0.00067],[0.0926,0.00814],[0.0992,0.00712],[0.1035,0.00607],[0.1041,0.00365],[0.1082,0.00307],[0.1505,0.00690],[0.1519,0.00627],[0.1524,0.00607],[0.1529,0.00427],[0.1552,0.00307],[0.1560,0.00105]];

var plus23 = [[0.455,0.0023],[0.474,0.0154],[0.478,0.0179],[0.481,0.0139],[0.488,0.0144],[0.492,0.0190],[0.493,0.0195],[0.494,0.0149],[0.495,0.0159],[0.496,0.0169],[0.496,0.0286],[0.497,0.0296],[0.501,0.0276],[0.503,0.0286],[0.505,0.0174],[0.514,0.0281],[0.515,0.0276],[0.516,0.0296],[0.517,0.0302],[0.517,0.0307],[0.519,0.0333],[0.520,0.0113],[0.543,0.0328],[0.553,0.0317],[0.554,0.0159],[0.557,0.0354],[0.561,0.0333],[0.567,0.0349],[0.570,0.0375],[0.614,0.0302],[0.618,0.0354],[0.624,0.0341],[0.626,0.0328],[0.633,0.0354],[0.634,0.0364],[0.646,0.0359],[0.648,0.0375],[0.652,0.0333],[0.663,0.0341],[0.666,0.0349],[0.668,0.0359],[0.670,0.0281],[0.675,0.0286],[0.677,0.0296],[0.698,0.0317],[0.714,0.0341],[0.722,0.0354],[0.735,0.0359],[0.737,0.0364],[0.741,0.0113],[0.744,0.0380],[0.755,0.0159],[0.770,0.0328],[0.772,0.0341],[0.781,0.0349],[0.792,0.0354],[0.796,0.0359],[0.799,0.0364],[0.803,0.0169],[0.805,0.0307],[0.814,0.0375],[0.822,0.0380],[0.833,0.0328],[0.839,0.0341],[0.855,0.0349],[0.893,0.0354],[0.906,0.0169],[0.909,0.0359],[0.911,0.0375],[0.912,0.0380],[0.919,0.0159],[0.928,0.0328],[0.956,0.0169],[0.960,0.0341],[0.968,0.0307],[0.971,0.0349],[0.972,0.0328],[0.997,0.0113],[1.024,0.0354],[1.025,0.0359],[1.036,0.0341],[1.037,0.0179],[1.045,0.0281],[1.047,0.0364],[1.047,0.0349],[1.051,0.0354],[1.065,0.0380],[1.072,0.0307],[1.074,0.0364],[1.082,0.0341],[1.104,0.0375],[1.106,0.0349],[1.112,0.0359],[1.116,0.0380],[1.119,0.0364],[1.123,0.0375],[1.125,0.0380]];
var minus23 = [[0.437,0.0317],[0.478,0.0296],[0.484,0.0286],[0.485,0.0276],[0.495,0.0185],[0.505,0.0123],[0.506,0.0118]];

var plus24 = [[0.0178,0.0132],[0.0300,0.0254],[0.0775,0.0751],[0.0789,0.0792],[0.0852,0.0850],[0.0865,0.0859],[0.0863,0.0741],[0.0896,0.0859],[0.0891,0.0748],[0.0907,0.0741],[0.0939,0.0783],[0.0946,0.0878],[0.0967,0.0741],[0.0974,0.0748],[0.0983,0.0901],[0.0995,0.0792],[0.0997,0.0915],[0.1004,0.0741],[0.1015,0.0758],[0.1027,0.0908],[0.1039,0.0783],[0.1078,0.0748],[0.1085,0.0921],[0.1138,0.0748],[0.1147,0.0758],[0.1145,0.0935],[0.1163,0.0808],[0.1172,0.0751],[0.1216,0.0783],[0.1223,0.0774],[0.1228,0.0820],[0.1239,0.0824],[0.1251,0.0801],[0.1262,0.0808],[0.1274,0.0813],[0.1295,0.0808],[0.1332,0.0921],[0.1366,0.0935],[0.1812,0.0741],[0.1897,0.0748],[0.1918,0.0748],[0.1987,0.0741],[0.2052,0.0758],[0.2112,0.0748],[0.2121,0.0751],[0.2176,0.0792],[0.2202,0.0758],[0.2301,0.0783],[0.2329,0.0901],[0.2352,0.0758],[0.2409,0.0901],[0.2451,0.0774],[0.2458,0.0783],[0.2453,0.0940],[0.2509,0.0931],[0.2543,0.0940],[0.2573,0.0940],
    [0.1041,0.2298],[0.1152,0.2337],[0.1186,0.2494],[0.1200,0.2513],[0.1202,0.2614],[0.1212,0.2656],[0.1212,0.2206],[0.1249,0.2275],[0.1260,0.2298],[0.1276,0.2351],[0.1279,0.2376],[0.1283,0.2271],[0.1295,0.2275],[0.1304,0.2206],[0.1322,0.2397],[0.1336,0.2333],[0.1350,0.2420],[0.1366,0.2390],[0.1378,0.2462],[0.1382,0.2340],[0.1387,0.2365],[0.1396,0.2376],[0.1401,0.2385],[0.1401,0.2298],[0.1429,0.2337],[0.1466,0.2436],[0.1472,0.2423],[0.1472,0.2503],[0.1498,0.2376],[0.1498,0.2580],[0.1553,0.2621],[0.1555,0.2536],[0.1565,0.2538],[0.1574,0.2436],[0.1590,0.2478],[0.1588,0.2531],[0.1616,0.2557],[0.1629,0.2522],[0.1639,0.2522],[0.1648,0.2564],[0.1657,0.2564],[0.1683,0.2547],[0.1690,0.2547],[0.1701,0.2575],[0.1712,0.2575],[0.1736,0.2605],[0.1756,0.2598],[0.1763,0.2630],[0.1814,0.2605],[0.1856,0.2580],[0.2029,0.2582],[0.2061,0.2589],[0.2167,0.2621],[0.2259,0.2672],[0.2569,0.2469],[0.2606,0.2469],[0.2636,0.2469],[0.2619,0.2206],[0.2677,0.2580],[0.2687,0.2557],[0.2760,0.2580],[0.2769,0.2640],[0.2793,0.2621],[0.2802,0.2656],[0.2820,0.2663],[0.2862,0.2716]];
var minus24 = [[0.0005,0.1559],[0.0524,0.1178],[0.0759,0.0940],[0.0764,0.0931],[0.0854,0.0921],[0.0882,0.0915],[0.0949,0.0915],[0.0992,0.0908],[0.1004,0.0912],[0.1029,0.0751],[0.1246,0.2503],[0.1276,0.2503],[0.1343,0.2448],[0.1348,0.2423],[0.1408,0.2356],[0.1424,0.2351],[0.1489,0.2298],[0.1521,0.2656],[0.1662,0.2557],[0.1666,0.2436],[0.1673,0.2423],[0.1789,0.2376],[0.1883,0.2298],[0.1890,0.0859],[0.1971,0.0783],[0.2144,0.0758],[0.2289,0.0751],[0.2324,0.0748]];

var plusSets = [plus01, plus02, plus03, plus04, plus05, plus06, plus07, plus08, plus09, plus10, plus11, plus12,
                plus13, plus14, plus15, plus16, plus17, plus18, plus19, plus20, plus21, plus22, plus23, plus24];
var minusSets = [minus01, minus02, minus03, minus04, minus05, minus06, minus07, minus08, minus09, minus10, minus11, minus12,
                 minus13, minus14, minus15, minus16, minus17, minus18, minus19, minus20, minus21, minus22, minus23, minus24];

var orientations = ["plus", "minus"];

var width = 4800,
    height = 3000,
    colLeft = [126, 914, 1702, 2505, 3293, 4081],
    rowTop = [211, 898, 1586, 2273],
    panelW = 701,
    panelH = 581,
    stripH = 49,
    pointR = 3.3,
    color = d3.scaleOrdinal().domain(orientations).range(["#1f78b4", "#e31a1c"]);

// fixed 4800x3000 coordinate system, fitted to the window width and pinned to the top
var svg = d3.select("#chart")
    .attr("viewBox", "0 0 " + width + " " + height)
    .attr("preserveAspectRatio", "xMinYMin meet");
svg.append("rect").attr("width", width).attr("height", height).attr("fill", "#ffffff");

// ggplot style: 5% expansion on each side of the data range
function expand(ext) {
    var pad = (ext[1] - ext[0]) * 0.05;
    return [ext[0] - pad, ext[1] + pad];
}

function majorLabels(labels, dom) {
    var eps = (dom[1] - dom[0]) * 1e-6;
    return labels.filter(function(l) { return +l >= dom[0] - eps && +l <= dom[1] + eps; });
}

function minorBreaks(labels, dom) {
    var v = labels.map(Number),
        step = v[1] - v[0],
        ext = [v[0] - step].concat(v, [v[v.length - 1] + step]),
        out = [];
    for (var k = 0; k < ext.length - 1; k++) {
        var m = (ext[k] + ext[k + 1]) / 2;
        if (m >= dom[0] && m <= dom[1]) out.push(m);
    }
    return out;
}

function styleAxis(a) {
    a.select(".domain").remove();
    a.attr("font-family", null).attr("font-size", null);
    a.selectAll(".tick line").attr("stroke", "#333333").attr("stroke-width", 2);
    a.selectAll(".tick text").attr("fill", "#4d4d4d").attr("font-size", 25);
}

function drawPanel(g, i) {
    var plus = plusSets[i], minus = minusSets[i], all = plus.concat(minus);
    var x = d3.scaleLinear().domain(expand(d3.extent(all, function(d) { return d[0]; }))).range([0, panelW]),
        y = d3.scaleLinear().domain(expand(d3.extent(all, function(d) { return d[1]; }))).range([stripH + panelH, stripH]);

    var xMaj = majorLabels(xTickLabels[i], x.domain()),
        yMaj = majorLabels(yTickLabels[i], y.domain()),
        xMin = minorBreaks(xTickLabels[i], x.domain()),
        yMin = minorBreaks(yTickLabels[i], y.domain());

    g.append("rect").attr("x", 0).attr("y", stripH).attr("width", panelW).attr("height", panelH).attr("fill", "#ffffff");

    var grid = g.append("g");
    grid.selectAll(".vmin").data(xMin).enter().append("line")
        .attr("x1", x).attr("x2", x).attr("y1", stripH).attr("y2", stripH + panelH)
        .attr("stroke", "#ebebeb").attr("stroke-width", 1.5);
    grid.selectAll(".hmin").data(yMin).enter().append("line")
        .attr("y1", y).attr("y2", y).attr("x1", 0).attr("x2", panelW)
        .attr("stroke", "#ebebeb").attr("stroke-width", 1.5);
    grid.selectAll(".vmaj").data(xMaj).enter().append("line")
        .attr("x1", function(d) { return x(+d); }).attr("x2", function(d) { return x(+d); })
        .attr("y1", stripH).attr("y2", stripH + panelH)
        .attr("stroke", "#ebebeb").attr("stroke-width", 3);
    grid.selectAll(".hmaj").data(yMaj).enter().append("line")
        .attr("y1", function(d) { return y(+d); }).attr("y2", function(d) { return y(+d); })
        .attr("x1", 0).attr("x2", panelW)
        .attr("stroke", "#ebebeb").attr("stroke-width", 3);

    [plus, minus].forEach(function(set, k) {
        g.append("g").selectAll("circle").data(set).enter().append("circle")
            .attr("cx", function(d) { return x(d[0]); })
            .attr("cy", function(d) { return y(d[1]); })
            .attr("r", pointR)
            .attr("fill", color(orientations[k]))
            .attr("fill-opacity", 0.6);
    });

    g.append("rect").attr("x", 0).attr("y", stripH).attr("width", panelW).attr("height", panelH)
        .attr("fill", "none").attr("stroke", "#333333").attr("stroke-width", 2);

    g.append("rect").attr("x", 0).attr("y", 0).attr("width", panelW).attr("height", stripH)
        .attr("fill", "#d9d9d9").attr("stroke", "#333333").attr("stroke-width", 2);
    g.append("text").attr("x", panelW / 2).attr("y", 34).attr("text-anchor", "middle")
        .attr("font-size", 26).attr("fill", "#1a1a1a").text(panelTitles[i]);

    g.append("g").attr("transform", "translate(0," + (stripH + panelH) + ")")
        .call(d3.axisBottom(x).tickValues(xMaj.map(Number))
            .tickFormat(function(d, j) { return xMaj[j]; }).tickSize(9).tickPadding(7))
        .call(styleAxis);
    g.append("g")
        .call(d3.axisLeft(y).tickValues(yMaj.map(Number))
            .tickFormat(function(d, j) { return yMaj[j]; }).tickSize(9).tickPadding(8))
        .call(styleAxis);
}

panelTitles.forEach(function(t, i) {
    var g = svg.append("g")
        .attr("transform", "translate(" + colLeft[i % 6] + "," + rowTop[Math.floor(i / 6)] + ")");
    drawPanel(g, i);
});

svg.append("text").attr("x", 126).attr("y", 46).attr("font-size", 40).attr("fill", "#000")
    .text("Gene-anchored dotplots: reference_vs_lean");

// legend
var legend = svg.append("g");
legend.append("text").attr("x", 2195).attr("y", 137).attr("font-size", 32).attr("fill", "#000").text("Orientation");
var keyX = [2426, 2584];
orientations.forEach(function(o, k) {
    legend.append("circle").attr("cx", keyX[k]).attr("cy", 125).attr("r", pointR)
        .attr("fill", color(o)).attr("fill-opacity", 0.6);
    legend.append("text").attr("x", keyX[k] + 54).attr("y", 134).attr("font-size", 26).attr("fill", "#000").text(o);
});

svg.append("text").attr("x", (126 + 4782) / 2).attr("y", 2975).attr("text-anchor", "middle")
    .attr("font-size", 32).attr("fill", "#000").text("Genome A gene position (Mb)");
svg.append("text").attr("transform", "translate(40," + ((211 + 2903) / 2) + ") rotate(-90)")
    .attr("text-anchor", "middle").attr("font-size", 32).attr("fill", "#000")
    .text("Genome B gene position (Mb)");
</script>
</body>
</html>
